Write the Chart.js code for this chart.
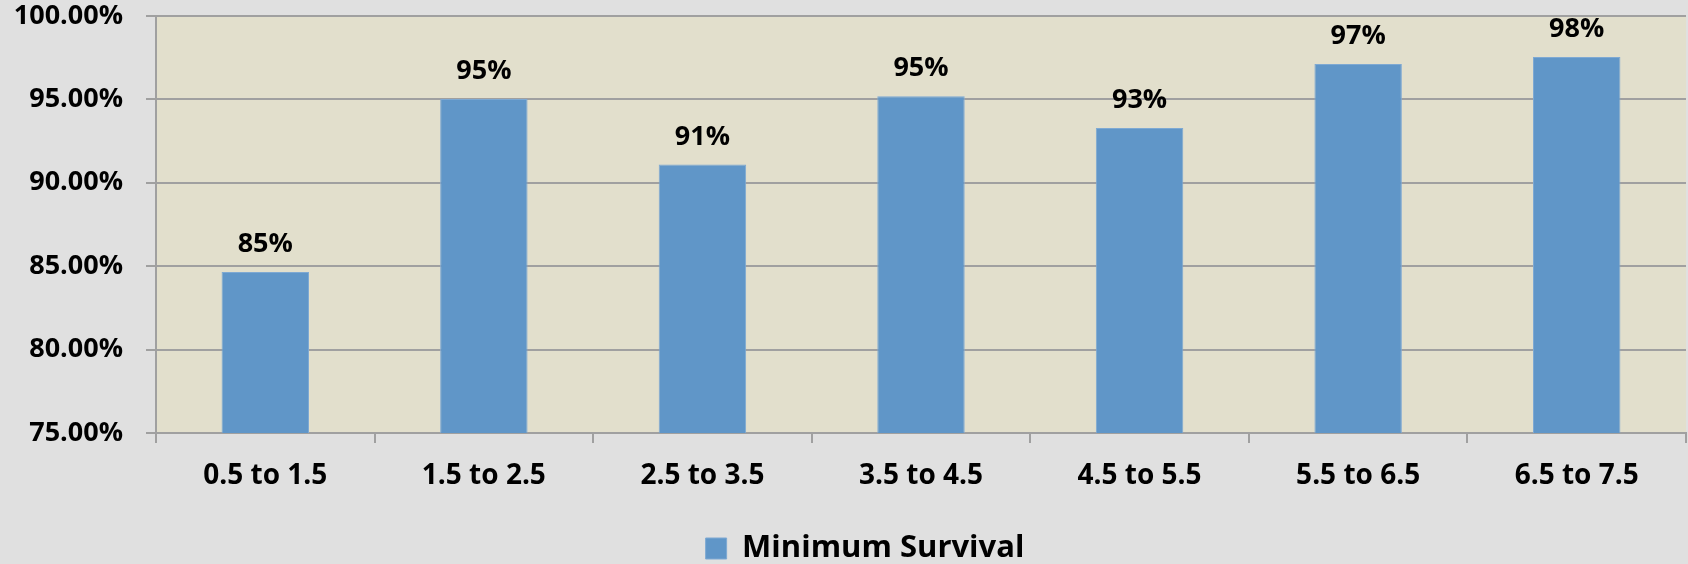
<!DOCTYPE html>
<html>
<head>
<meta charset="utf-8">
<script src="https://cdn.jsdelivr.net/npm/chart.js@4/dist/chart.umd.min.js"></script>
<style>
  html, body { margin: 0; padding: 0; background: #e0e0e0; }
  #wrap { width: 1688px; height: 564px; position: relative; }
</style>
</head>
<body>
<div id="wrap"><canvas id="c"></canvas></div>
<script>
const categories = ["0.5 to 1.5", "1.5 to 2.5", "2.5 to 3.5", "3.5 to 4.5", "4.5 to 5.5", "5.5 to 6.5", "6.5 to 7.5"];
const survival = [84.65, 95.03, 91.09, 95.19, 93.28, 97.12, 97.54];
const seriesName = "Minimum Survival";
const yMin = 75, yMax = 100, yStep = 5;

const FONT = "'Open Sans', 'Noto Sans', sans-serif";
const GRID = "#a0a0a0";

const bgPlugin = {
  id: 'bg',
  beforeDraw(chart) {
    const { ctx, chartArea } = chart;
    ctx.save();
    ctx.fillStyle = '#e0e0e0';
    ctx.fillRect(0, 0, chart.width, chart.height);
    ctx.fillStyle = '#e2dfcc';
    ctx.fillRect(chartArea.left, chartArea.top, chartArea.right - chartArea.left, chartArea.bottom - chartArea.top);
    ctx.restore();
  }
};

const legendShift = {
  id: 'legendShift',
  afterLayout(chart) {
    const lg = chart.legend;
    if (!lg) return;
    const dx = 22, dy = 10;
    lg.left += dx; lg.right += dx;
    lg.top += dy; lg.bottom += dy;
  }
};

const labelPlugin = {
  id: 'valueLabels',
  afterDatasetsDraw(chart) {
    const { ctx } = chart;
    const meta = chart.getDatasetMeta(0);
    ctx.save();
    ctx.font = "bold 27px " + FONT;
    ctx.fillStyle = '#000';
    ctx.textAlign = 'center';
    ctx.textBaseline = 'alphabetic';
    meta.data.forEach((bar, i) => {
      const v = chart.data.datasets[0].data[i];
      ctx.fillText(Math.round(v) + '%', bar.x, bar.y - 20);
    });
    ctx.restore();
  }
};

new Chart(document.getElementById('c'), {
  type: 'bar',
  data: {
    labels: categories,
    datasets: [{
      label: seriesName,
      data: survival,
      backgroundColor: '#6096c8',
      borderColor: '#7ea9d3',
      borderWidth: 1,
      barPercentage: 0.4,
      categoryPercentage: 1.0
    }]
  },
  options: {
    responsive: true,
    maintainAspectRatio: false,
    animation: false,
    layout: { padding: { left: 0, right: 2, top: 0, bottom: 0 } },
    plugins: {
      tooltip: { enabled: false },
      legend: {
        position: 'bottom',
        labels: {
          boxWidth: 21,
          boxHeight: 21,
          padding: 2,
          color: '#000',
          font: { family: FONT, size: 31, weight: 'bold' }
        }
      }
    },
    scales: {
      x: {
        grid: {
          offset: true,
          drawOnChartArea: false,
          drawTicks: true,
          tickLength: 10,
          color: GRID,
          lineWidth: 2
        },
        border: { display: true, color: GRID, width: 2 },
        ticks: {
          color: '#000',
          padding: 16,
          maxRotation: 0,
          font: { family: FONT, size: 28, weight: 'bold' }
        },
        afterFit(scale) { scale.height = 88; }
      },
      y: {
        min: yMin,
        max: yMax,
        grid: {
          color: GRID,
          lineWidth: 2,
          tickLength: 10,
          drawTicks: true
        },
        border: { display: true, color: GRID, width: 2 },
        ticks: {
          stepSize: yStep,
          color: '#000',
          padding: 23,
          font: { family: FONT, size: 27, weight: 'bold' },
          callback: (v) => Number(v).toFixed(2) + '%'
        },
        afterFit(scale) {
          scale.width = 156;
          scale.paddingTop = 16;
          scale.paddingBottom = 0;
        }
      }
    }
  },
  plugins: [bgPlugin, legendShift, labelPlugin]
});
</script>
</body>
</html>
